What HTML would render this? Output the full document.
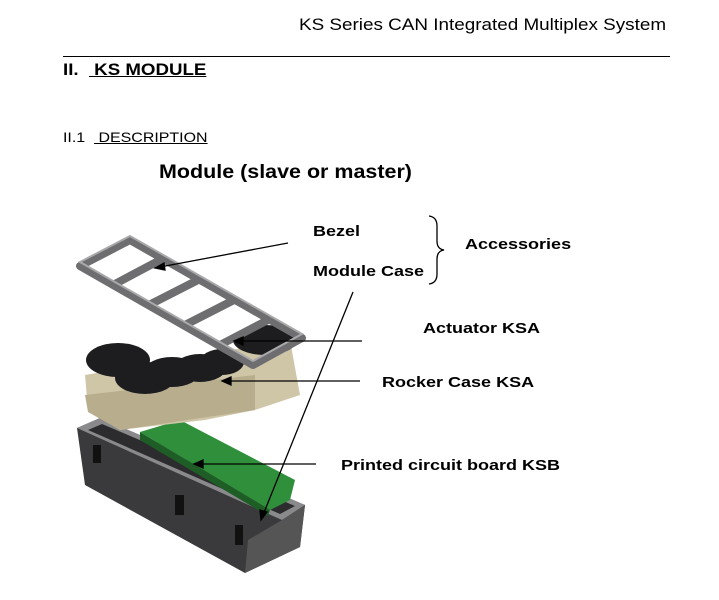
<!DOCTYPE html>
<html><head><meta charset="utf-8"><style>
html,body{margin:0;padding:0;background:#fff;}
body{width:719px;height:600px;position:relative;overflow:hidden;font-family:"Liberation Sans",Arial,sans-serif;color:#000;}
.t{position:absolute;white-space:nowrap;transform-origin:0 0;}
.l{font-size:15px;font-weight:bold;transform:scaleX(1.2);}
</style></head><body>
<div class="t" style="left:299px;top:15px;font-size:17px;transform:scaleX(1.11);">KS Series CAN Integrated Multiplex System</div>
<div style="position:absolute;left:63px;top:56px;width:607px;height:1px;background:#000;"></div>
<div class="t" style="left:63px;top:60px;font-size:17px;font-weight:bold;transform:scaleX(1.1);">II.&nbsp;&nbsp;<span style="text-decoration:underline;">&nbsp;KS MODULE</span></div>
<div class="t" style="left:63px;top:129px;font-size:14px;transform:scaleX(1.14);">II.1&nbsp;&nbsp;<span style="text-decoration:underline;">&nbsp;DESCRIPTION</span></div>
<div class="t" style="left:159px;top:162px;font-size:19px;font-weight:bold;transform:scaleX(1.13);">Module (slave or master)</div>

<svg width="719" height="600" style="position:absolute;left:0;top:0;">
<!-- box -->
<polygon points="77,428 100,418 305,505 300,547 245,573 85,485" fill="#3a3a3c"/>
<polygon points="77,428 100,418 305,505 282,520" fill="#8a8a8c"/>
<polygon points="88,430 102,424 295,506 280,514" fill="#2c2c2e"/>
<polygon points="245,573 300,547 305,505 282,520 248,540" fill="#555"/>
<rect x="93" y="445" width="8" height="18" fill="#111"/>
<rect x="175" y="495" width="9" height="20" fill="#111"/>
<rect x="235" y="525" width="8" height="20" fill="#111"/>
<!-- pcb -->
<polygon points="140,432 180,420 295,480 290,500 270,510" fill="#2f8f3a"/>
<polygon points="140,432 270,510 268,516 140,440" fill="#1e5e26"/>
<!-- rocker bases -->
<polygon points="85,375 290,340 300,395 255,410 205,420 120,430 88,410" fill="#cfc6a8"/>
<polygon points="85,395 255,375 255,410 120,430 88,412" fill="#b8ae8e"/>
<!-- actuators -->
<g fill="#1d1d1f">
<ellipse cx="118" cy="360" rx="32" ry="17"/>
<ellipse cx="145" cy="378" rx="30" ry="16"/>
<ellipse cx="172" cy="372" rx="28" ry="15"/>
<ellipse cx="200" cy="368" rx="26" ry="14"/>
<ellipse cx="222" cy="362" rx="22" ry="13"/>
<ellipse cx="265" cy="340" rx="32" ry="15"/>
</g>
<!-- bezel -->
<g fill="none" stroke="#6e6e70" stroke-width="8" stroke-linejoin="round">
<polygon points="80,266 130,240 302,338 253,365"/>
<line x1="113" y1="285" x2="162" y2="259"/>
<line x1="149" y1="305" x2="198" y2="280"/>
<line x1="185" y1="325" x2="234" y2="300"/>
<line x1="220" y1="345" x2="268" y2="320"/>
</g>
<g fill="none" stroke="#a9a9ab" stroke-width="2">
<polygon points="80,262 130,236 302,334 253,361"/>
</g>
<!-- leader lines -->
<g stroke="#000" stroke-width="1.3" fill="#000">
<line x1="288" y1="243" x2="160" y2="267"/><polygon points="155,268 164,263 165,270"/>
<line x1="353" y1="292" x2="263" y2="515"/><polygon points="261,520 260,510 267,512"/>
<line x1="362" y1="341" x2="240" y2="341"/><polygon points="234,341 243,337 243,345"/>
<line x1="360" y1="381" x2="228" y2="381"/><polygon points="222,381 231,377 231,385"/>
<line x1="316" y1="464" x2="200" y2="464"/><polygon points="194,464 203,460 203,468"/>
</g>
<path d="M429,216 Q437,217 437,226 L437,241 Q437,249 444,250 Q437,251 437,259 L437,274 Q437,283 429,284" fill="none" stroke="#000" stroke-width="1.3"/>
</svg>
<div class="t l" style="left:313px;top:223px;">Bezel</div>
<div class="t l" style="left:313px;top:263px;">Module Case</div>
<div class="t l" style="left:465px;top:236px;">Accessories</div>
<div class="t l" style="left:423px;top:320px;">Actuator KSA</div>
<div class="t l" style="left:382px;top:374px;">Rocker Case KSA</div>
<div class="t l" style="left:341px;top:457px;">Printed circuit board KSB</div>
</body></html>
